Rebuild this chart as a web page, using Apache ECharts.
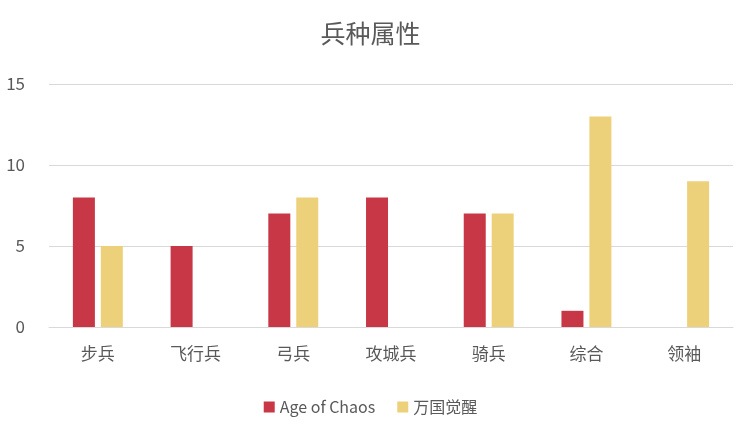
<!DOCTYPE html>
<html><head><meta charset="utf-8">
<script src="https://cdn.jsdelivr.net/npm/echarts@6/dist/echarts.min.js"></script>
<style>html,body{margin:0;padding:0;background:#fff}#c{width:741px;height:428px}</style>
</head><body><div id="c"></div>
<script>
const categories = ['步兵','飞行兵','弓兵','攻城兵','骑兵','综合','领袖'];
const seriesNames = ['Age of Chaos','万国觉醒'];
const ageOfChaos = [8,5,7,8,7,1,null];
const wanguo = [5,null,8,null,7,13,9];
const yTicks = {min:0,max:15,interval:5};
const font = 'Microsoft YaHei, "Noto Sans CJK SC", sans-serif';
const chart = echarts.init(document.getElementById('c'));
chart.setOption({
  animation:false,
  title:{text:'兵种属性',left:'center',top:16,textStyle:{fontSize:25,fontWeight:'normal',color:'#595959',fontFamily:font}},
  legend:{bottom:8,itemWidth:11,itemHeight:11,itemGap:22,icon:'rect',textStyle:{fontSize:16,color:'#595959',fontFamily:font},data:seriesNames},
  grid:{left:49,right:8,top:84,bottom:101},
  xAxis:{type:'category',data:categories,axisTick:{show:false},axisLine:{lineStyle:{color:'#d9d9d9'}},
    axisLabel:{fontSize:17,color:'#595959',margin:18,fontFamily:font}},
  yAxis:{type:'value',min:yTicks.min,max:yTicks.max,interval:yTicks.interval,axisLine:{show:false},axisTick:{show:false},
    axisLabel:{fontSize:17,color:'#595959',margin:24,fontFamily:font},splitLine:{lineStyle:{color:'#d9d9d9'}}},
  series:[
    {name:seriesNames[0],type:'bar',data:ageOfChaos,barWidth:22,barGap:'27%',itemStyle:{color:'#C83746'}},
    {name:seriesNames[1],type:'bar',data:wanguo,barWidth:22,itemStyle:{color:'#EDD07A'}}
  ]
});
</script></body></html>
